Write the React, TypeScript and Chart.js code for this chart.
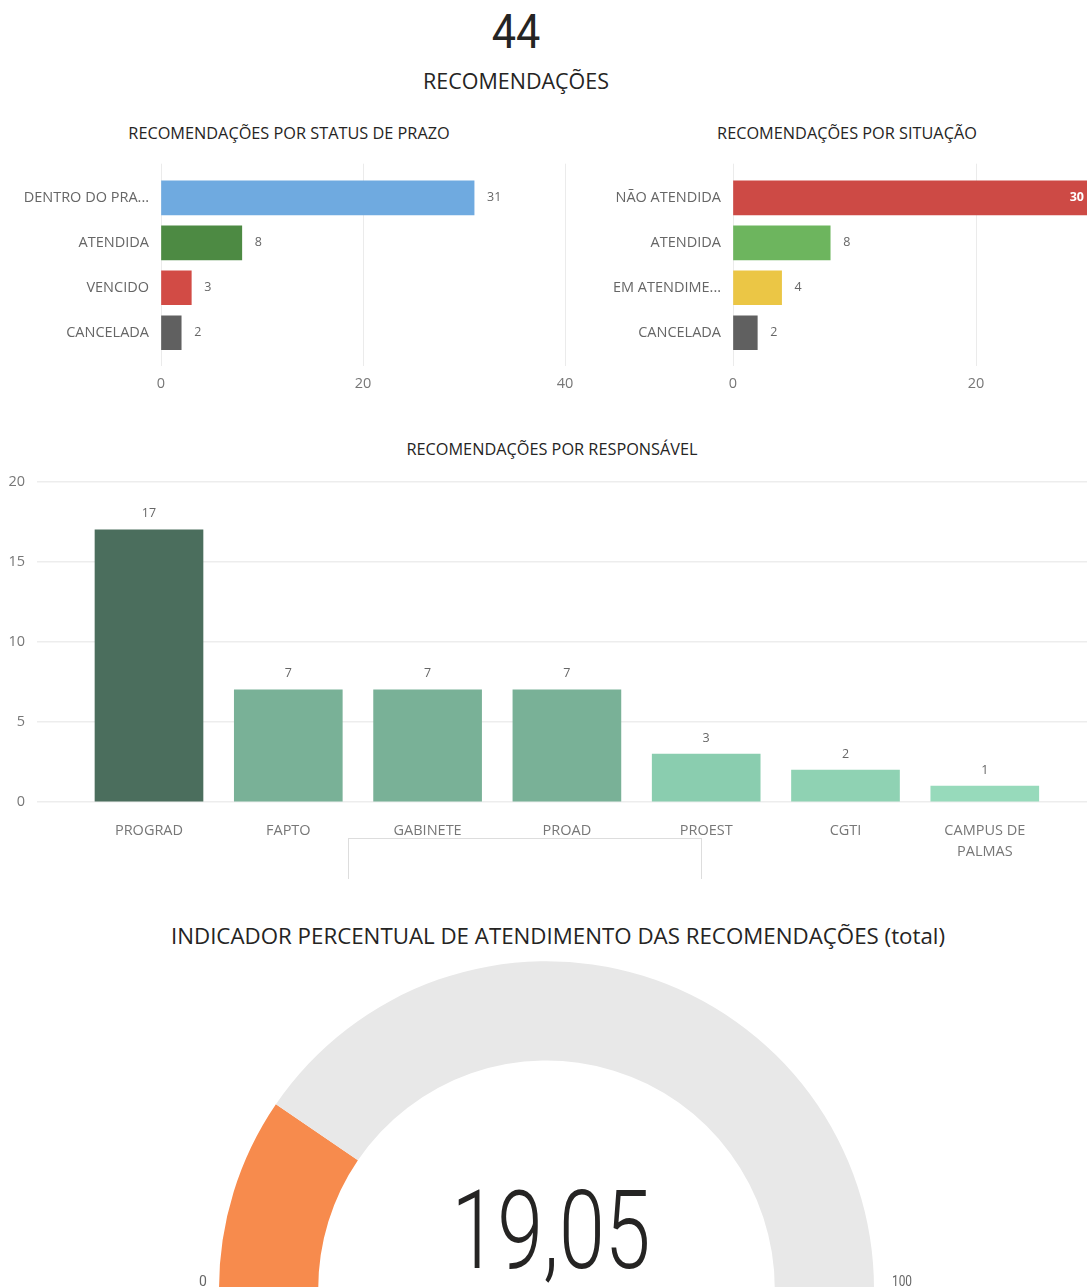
import React, { useEffect, useRef } from 'react';
import { Chart, registerables } from 'chart.js';

Chart.register(...registerables);

const FONT = '"Open Sans", "Noto Sans", sans-serif';
const NUM_FONT = 'Roboto, "Noto Sans", sans-serif';

const totalValue = '44';
const totalLabel = 'RECOMENDAÇÕES';

const statusTitle = 'RECOMENDAÇÕES POR STATUS DE PRAZO';
const statusLabels = ['DENTRO DO PRA...', 'ATENDIDA', 'VENCIDO', 'CANCELADA'];
const statusValues = [31, 8, 3, 2];
const statusColors = ['#6FAAE0', '#4D8A43', '#D24B45', '#606060'];

const situacaoTitle = 'RECOMENDAÇÕES POR SITUAÇÃO';
const situacaoLabels = ['NÃO ATENDIDA', 'ATENDIDA', 'EM ATENDIME...', 'CANCELADA'];
const situacaoValues = [30, 8, 4, 2];
const situacaoColors = ['#CD4A45', '#6DB55E', '#EBC645', '#606060'];

const hTicks = [0, 20, 40];

const responsavelTitle = 'RECOMENDAÇÕES POR RESPONSÁVEL';
const responsavelLabels = ['PROGRAD', 'FAPTO', 'GABINETE', 'PROAD', 'PROEST', 'CGTI', 'CAMPUS DE PALMAS'];
const responsavelValues = [17, 7, 7, 7, 3, 2, 1];
const responsavelColors = ['#4B6E5D', '#79B197', '#79B197', '#79B197', '#8ACDAF', '#8FD2B3', '#97DABB'];
const responsavelTicks = [0, 5, 10, 15, 20];

const gaugeTitle = 'INDICADOR PERCENTUAL DE ATENDIMENTO DAS RECOMENDAÇÕES (total)';
const gaugeValue = 19.05;
const gaugeMin = 0;
const gaugeMax = 100;
const gaugeColors = ['#F78B4D', '#E8E8E8'];

const LABEL_SIZE = 14.5;

const valueLabels = {
  id: 'valueLabels',
  afterDatasetsDraw(chart: any, _args: any, opts: any) {
    if (!opts || !opts.enabled) return;
    const ctx = chart.ctx;
    const meta = chart.getDatasetMeta(0);
    const values: number[] = opts.values;
    ctx.save();
    meta.data.forEach((el: any, i: number) => {
      const text = String(values[i]);
      ctx.font = opts.font;
      ctx.fillStyle = opts.color;
      if (opts.horizontal) {
        ctx.textBaseline = 'middle';
        const w = ctx.measureText(text).width;
        const x = el.x + opts.offset;
        if (opts.maxX !== undefined && x + w > opts.maxX) {
          ctx.font = opts.insideFont;
          ctx.fillStyle = opts.insideColor;
          ctx.textAlign = 'right';
          ctx.fillText(text, Math.min(el.x, opts.maxX) - 3, el.y);
        } else {
          ctx.textAlign = 'left';
          ctx.fillText(text, x, el.y);
        }
      } else {
        ctx.textAlign = 'center';
        ctx.textBaseline = 'middle';
        ctx.fillText(text, el.x, el.y - opts.offset);
      }
    });
    ctx.restore();
  },
};

function hbarConfig(labels: string[], values: number[], colors: string[], yAxisWidth: number, rightPad: number, maxX?: number) {
  return {
    type: 'bar',
    data: {
      datasets: [
        {
          data: values.map((v, i) => ({ x: v, y: i })),
          backgroundColor: colors,
          borderWidth: 0,
          barThickness: 34,
        },
      ],
    },
    options: {
      indexAxis: 'y',
      animation: false,
      responsive: false,
      events: [],
      layout: { padding: { top: 0, right: rightPad, left: 0, bottom: 0 } },
      scales: {
        x: {
          type: 'linear',
          min: hTicks[0],
          max: hTicks[hTicks.length - 1],
          afterBuildTicks: (s: any) => {
            s.ticks = hTicks.map((v) => ({ value: v }));
          },
          ticks: { color: '#777', font: { family: FONT, size: LABEL_SIZE }, padding: 9, maxRotation: 0 },
          grid: { color: '#EBEBEB', drawTicks: false },
          border: { display: false },
          afterFit: (s: any) => {
            s.height = 34;
          },
        },
        y: {
          type: 'linear',
          offset: false,
          reverse: true,
          min: -0.76,
          max: 3.74,
          afterBuildTicks: (s: any) => {
            s.ticks = labels.map((_, i) => ({ value: i }));
          },
          ticks: {
            callback: (v: any) => labels[v],
            color: '#666',
            font: { family: FONT, size: LABEL_SIZE },
            padding: 12,
            autoSkip: false,
          },
          grid: { display: false, drawTicks: false, offset: false },
          border: { display: false },
          afterFit: (s: any) => {
            s.width = yAxisWidth;
          },
        },
      },
      plugins: {
        legend: { display: false },
        tooltip: { enabled: false },
        valueLabels: {
          enabled: true,
          horizontal: true,
          values,
          offset: 13,
          font: `12.5px ${FONT}`,
          color: '#666',
          maxX,
          insideFont: `bold 12.5px ${FONT}`,
          insideColor: '#FFFFFF',
        },
      },
    },
    plugins: [valueLabels],
  };
}

function wrapLabel(s: string) {
  if (s.length <= 10) return s;
  const idx = s.lastIndexOf(' ');
  return [s.slice(0, idx), s.slice(idx + 1)];
}

function responsavelConfig() {
  const minX = -0.804;
  const pxPerCat = 139.3;
  const areaWidth = 1120 - 37;
  return {
    type: 'bar',
    data: {
      datasets: [
        {
          data: responsavelValues.map((v, i) => ({ x: i, y: v })),
          backgroundColor: responsavelColors,
          borderWidth: 0,
          barThickness: 108,
        },
      ],
    },
    options: {
      animation: false,
      responsive: false,
      events: [],
      layout: { padding: { top: 0, right: 0, left: 0, bottom: 0 } },
      scales: {
        x: {
          type: 'linear',
          offset: false,
          min: minX,
          max: minX + areaWidth / pxPerCat,
          afterBuildTicks: (s: any) => {
            s.ticks = responsavelLabels.map((_, i) => ({ value: i }));
          },
          ticks: {
            callback: (v: any) => wrapLabel(responsavelLabels[v]),
            color: '#777',
            font: { family: FONT, size: LABEL_SIZE, lineHeight: 1.45 },
            padding: 18,
            autoSkip: false,
            maxRotation: 0,
          },
          grid: { display: false, drawTicks: false, offset: false },
          border: { display: false },
          afterFit: (s: any) => {
            s.height = 68;
          },
        },
        y: {
          type: 'linear',
          min: responsavelTicks[0],
          max: responsavelTicks[responsavelTicks.length - 1],
          afterBuildTicks: (s: any) => {
            s.ticks = responsavelTicks.map((v) => ({ value: v }));
          },
          ticks: { color: '#777', font: { family: FONT, size: LABEL_SIZE }, padding: 12 },
          grid: { color: '#EDEDED', drawTicks: false, lineWidth: 1.5 },
          border: { display: false },
          afterFit: (s: any) => {
            s.width = 37;
          },
        },
      },
      plugins: {
        legend: { display: false },
        tooltip: { enabled: false },
        valueLabels: {
          enabled: true,
          horizontal: false,
          values: responsavelValues,
          offset: 16,
          font: `12.5px ${FONT}`,
          color: '#666',
        },
      },
    },
    plugins: [valueLabels],
  };
}

function gaugeConfig() {
  return {
    type: 'doughnut',
    data: {
      labels: ['Atendimento', 'Restante'],
      datasets: [
        {
          data: [gaugeValue - gaugeMin, gaugeMax - gaugeValue],
          backgroundColor: gaugeColors,
          borderWidth: 0,
        },
      ],
    },
    options: {
      animation: false,
      responsive: false,
      events: [],
      rotation: -90,
      circumference: 180,
      cutout: '69.7%',
      layout: { padding: 0 },
      plugins: { legend: { display: false }, tooltip: { enabled: false } },
    },
  };
}

function ChartCanvas({ make, left, top, width, height }: any) {
  const ref = useRef<HTMLCanvasElement>(null);
  useEffect(() => {
    const chart = new Chart(ref.current as HTMLCanvasElement, make());
    return () => chart.destroy();
  }, []);
  return (
    <canvas
      ref={ref}
      width={width}
      height={height}
      style={{ position: 'absolute', left, top, width, height }}
    />
  );
}

function CText({ text, cx, cy, size, color = '#252423', family = FONT, weight = 400, scaleX, capMid = 0.63 }: any) {
  return (
    <div
      style={{
        position: 'absolute',
        left: cx - 600,
        width: 1200,
        top: cy - capMid * size,
        fontSize: size,
        lineHeight: `${size * 1.2}px`,
        fontFamily: family,
        fontWeight: weight,
        color,
        textAlign: 'center',
        whiteSpace: 'nowrap',
        transform: scaleX ? `scaleX(${scaleX})` : undefined,
      }}
    >
      {text}
    </div>
  );
}

export default function App() {
  return (
    <div
      style={{
        position: 'absolute',
        left: 0,
        top: 0,
        width: 1087,
        height: 1287,
        overflow: 'hidden',
        background: '#FFFFFF',
        fontFamily: FONT,
      }}
    >
      <CText text={totalValue} cx={516} cy={31} size={48} family={NUM_FONT} capMid={0.586} scaleX={0.9} />
      <CText text={totalLabel} cx={516} cy={82} size={21.5} />

      <CText text={statusTitle} cx={289} cy={134} size={16.3} />
      <CText text={situacaoTitle} cx={847} cy={134} size={16.3} />
      <ChartCanvas make={() => hbarConfig(statusLabels, statusValues, statusColors, 161, 35)} left={0} top={143} width={600} height={257} />
      <ChartCanvas
        make={() => hbarConfig(situacaoLabels, situacaoValues, situacaoColors, 158, 56, 1087 - 575)}
        left={575}
        top={143}
        width={700}
        height={257}
      />

      <CText text={responsavelTitle} cx={552} cy={450} size={16.3} />
      <ChartCanvas make={responsavelConfig} left={0} top={461} width={1120} height={409} />
      <div
        style={{
          position: 'absolute',
          left: 348,
          top: 838,
          width: 352,
          height: 40,
          borderTop: '1px solid #DDDDDD',
          borderLeft: '1px solid #DDDDDD',
          borderRight: '1px solid #DDDDDD',
        }}
      />

      <CText text={gaugeTitle} cx={558} cy={937} size={22.3} />
      <ChartCanvas make={gaugeConfig} left={219} top={961} width={655} height={328} />
      <CText text={'19,05'} cx={551} cy={1229} size={110} family={NUM_FONT} weight={300} capMid={0.586} scaleX={0.75} />
      <CText text={String(gaugeMin)} cx={203} cy={1281} size={14} color="#666" family={NUM_FONT} capMid={0.586} />
      <CText text={String(gaugeMax)} cx={902} cy={1281} size={14} color="#666" family={NUM_FONT} capMid={0.586} scaleX={0.85} />
    </div>
  );
}
